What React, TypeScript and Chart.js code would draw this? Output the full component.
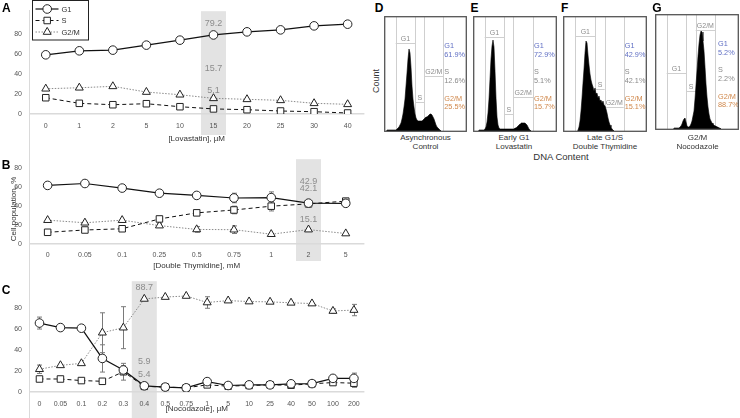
import React, { useEffect, useRef } from 'react';
import { Chart, registerables } from 'chart.js';
Chart.register(...registerables);

const FONT = "'Liberation Sans', Arial, Helvetica, sans-serif";

// ---------- Panel A: Lovastatin ----------
const A_DOSES = ['0', '1', '2', '5', '10', '15', '20', '25', '30', '40'];
const A_G1 = [59.3, 63.3, 64, 69, 74, 79.2, 82.3, 84.3, 88.3, 90];
const A_S = [16.3, 10.7, 9.3, 10.3, 7.3, 5.1, 4.3, 3, 2.3, 1];
const A_G2M = [25.3, 26.3, 27.7, 22, 19.3, 15.7, 14.7, 13.7, 10.7, 9.7];
const A_NOTES = ['79.2', '15.7', '5.1'];
const A_NOTE_Y = [91, 46, 24];

// ---------- Panel B: Double Thymidine ----------
const B_DOSES = ['0', '0.05', '0.1', '0.25', '0.5', '0.75', '1', '2', '5'];
const B_G1 = [61.5, 63.5, 58.7, 53.3, 51, 48.3, 48.7, 42.9, 42.7];
const B_S = [12.3, 14.7, 16, 26.3, 32.7, 35.7, 39.7, 42.1, 45];
const B_G2M = [25, 22.3, 25, 19.3, 15.3, 15, 10.3, 15.1, 11];
const B_G1_ERR = [0, 0, 0, 0, 3, 5, 6, 2, 0];
const B_S_ERR = [0, 0, 0, 2, 2, 4, 5, 2, 0];
const B_G2M_ERR = [0, 0, 0, 2, 3, 4, 0, 0, 0];
const B_NOTES = ['42.9', '42.1', '15.1'];
const B_NOTE_Y = [65.5, 58.5, 26];

// ---------- Panel C: Nocodazole ----------
const C_DOSES = ['0', '0.05', '0.1', '0.2', '0.3', '0.4', '0.5', '0.75', '1', '5', '10', '25', '40', '50', '100', '200'];
const C_G1 = [65.7, 61.4, 60.8, 32, 21, 5.9, 4.7, 4, 9.9, 6.2, 6.8, 6.8, 7.8, 8, 13, 13];
const C_S = [12.4, 12.4, 10.9, 10.2, 19.3, 5.4, 4.7, 4, 6.8, 5.6, 6.2, 6.8, 6.5, 7.8, 9, 8.4];
const C_G2M = [21.7, 25.4, 27.3, 56.5, 61.3, 88.7, 90.5, 91.5, 85.3, 87.1, 86.2, 85.9, 85, 84.3, 77.2, 78.1];
const C_G1_ERR = [5.7, 0, 0, 13, 4, 0, 0, 0, 3, 0, 0, 0, 0, 0, 0, 5];
const C_S_ERR = [0, 0, 0, 0, 8, 0, 0, 0, 0, 0, 0, 0, 0, 0, 0, 4];
const C_G2M_ERR = [4, 0, 0, 19, 20, 0, 0, 0, 5.5, 0, 0, 0, 0, 0, 2, 5.4];
const C_NOTES = ['88.7', '5.9', '5.4'];
const C_NOTE_Y = [99.2, 29, 16.7];

const SERIES_NAMES = ['G1', 'S', 'G2/M'];

// ---------- Histograms (DNA content, counts per channel) ----------
const HIST_D_START = 2;
const HIST_D = [1, 1, 1, 1, 1, 1, 1, 1, 1, 1, 2, 3, 4, 6, 8, 12, 17, 24, 32, 45, 58, 72, 82, 78, 64, 45, 32, 24, 17, 13, 11, 10, 10, 10, 10, 10, 11, 12, 13, 14, 14, 15, 16, 17, 17, 16, 14, 12, 9, 6, 4, 3, 2, 1];
const HIST_E_START = 5;
const HIST_E = [1, 1, 1, 1, 1, 1, 2, 4, 9, 18, 32, 52, 72, 85, 91, 84, 60, 33, 14, 6, 3, 2, 2, 2, 2, 2, 2, 2, 2, 2, 2, 2, 2, 2, 2, 2, 3, 3, 4, 5, 6, 7, 8, 8, 8, 8, 8, 7, 6, 4, 2, 1];
const HIST_F_START = 14;
const HIST_F = [1, 4, 10, 20, 33, 48, 62, 78, 90, 88, 76, 66, 57, 51, 47, 44, 40, 43, 37, 38, 33, 35, 30, 31, 28, 30, 26, 25, 22, 18, 13, 9, 6, 4, 2, 1];
const HIST_G_START = 18;
const HIST_G = [1, 1, 1, 1, 1, 1, 2, 3, 5, 8, 10, 11, 7, 3, 2, 2, 3, 5, 8, 13, 18, 30, 44, 58, 73, 85, 94, 98, 97, 88, 78, 62, 45, 32, 22, 15, 10, 8, 6, 5, 4, 3, 3, 2, 2, 1, 1];

const D_GATES = [10.7, 30.3, 39.3, 58.3];
const D_GATE_H = [88, 29, 55];
const E_GATES = [10.7, 30.3, 39.3, 59];
const E_GATE_H = [94, 17, 34];
const F_GATES = [11.3, 31.3, 40.7, 59.7];
const F_GATE_H = [95, 42, 24];
const G_GATES = [10.7, 30.3, 39.7, 59];
const G_GATE_H = [56, 38, 99];

const D_PCT = ['61.9%', '12.6%', '25.5%'];
const E_PCT = ['72.9%', '5.1%', '15.7%'];
const F_PCT = ['42.9%', '42.1%', '15.1%'];
const G_PCT = ['5.2%', '2.2%', '88.7%'];

const STAT_COLORS = ['#6170c4', '#8a8a8a', '#d0874a'];

const SERIES_STYLE: any[] = [
  { borderColor: '#111', borderWidth: 1.2, borderDash: [], pointStyle: 'circle', pointRadius: 4.3 },
  { borderColor: '#111', borderWidth: 1, borderDash: [4, 3], pointStyle: 'rect', pointRadius: 4.6 },
  { borderColor: '#8a8a8a', borderWidth: 1, borderDash: [1.5, 1.5], pointStyle: 'triangle', pointRadius: 4.6 },
];

function drawMarker(ctx: CanvasRenderingContext2D, style: string, x: number, y: number, r: number) {
  ctx.beginPath();
  if (style === 'circle') {
    ctx.arc(x, y, r, 0, Math.PI * 2);
  } else if (style === 'rect') {
    const s = r * Math.SQRT1_2;
    ctx.rect(x - s, y - s, 2 * s, 2 * s);
  } else {
    const h = r * Math.sin(Math.PI / 3);
    ctx.moveTo(x, y - r);
    ctx.lineTo(x + h, y + r / 2);
    ctx.lineTo(x - h, y + r / 2);
    ctx.closePath();
  }
  ctx.fillStyle = '#fff';
  ctx.fill();
  ctx.lineWidth = 1;
  ctx.strokeStyle = '#222';
  ctx.stroke();
}

const panelPlugin = {
  id: 'panel',
  beforeDraw(chart: any, _a: any, o: any) {
    const { ctx, chartArea } = chart;
    const xs = chart.scales.x;
    const cx = xs.getPixelForValue(o.hi);
    ctx.save();
    ctx.fillStyle = '#e3e3e3';
    ctx.fillRect(cx - o.bandW / 2, chartArea.top, o.bandW, chartArea.bottom - chartArea.top + o.bandExtra);
    ctx.restore();
  },
  beforeDatasetsDraw(chart: any, _a: any, o: any) {
    const { ctx } = chart;
    const ys = chart.scales.y;
    ctx.save();
    ctx.strokeStyle = '#7a7a7a';
    ctx.lineWidth = 1;
    (o.errors || []).forEach((errs: number[], i: number) => {
      const meta = chart.getDatasetMeta(i);
      const vals = chart.data.datasets[i].data;
      errs.forEach((e, j) => {
        if (!e) return;
        const x = Math.round(meta.data[j].x) + 0.5;
        const t = ys.getPixelForValue(vals[j] + e);
        const b = ys.getPixelForValue(vals[j] - e);
        ctx.beginPath();
        ctx.moveTo(x, t); ctx.lineTo(x, b);
        ctx.moveTo(x - 2.5, t); ctx.lineTo(x + 2.5, t);
        ctx.moveTo(x - 2.5, b); ctx.lineTo(x + 2.5, b);
        ctx.stroke();
      });
    });
    ctx.restore();
  },
  afterDatasetsDraw(chart: any, _a: any, o: any) {
    const { ctx } = chart;
    const cx = chart.scales.x.getPixelForValue(o.hi);
    const ys = chart.scales.y;
    ctx.save();
    ctx.fillStyle = '#8c8c8c';
    ctx.font = `9px ${FONT}`;
    ctx.textAlign = 'center';
    ctx.textBaseline = 'middle';
    o.notes.forEach((t: string, i: number) => {
      ctx.fillText(t, cx, ys.getPixelForValue(o.noteY[i]));
    });
    ctx.restore();
  },
  afterDraw(chart: any, _a: any, o: any) {
    if (!o.legend) return;
    const { ctx, chartArea } = chart;
    const x0 = chartArea.left + 3.5;
    ctx.save();
    ctx.strokeStyle = '#222';
    ctx.lineWidth = 1;
    ctx.fillStyle = '#fff';
    ctx.fillRect(x0, 0.5, 56, 39.5);
    ctx.strokeRect(x0, 0.5, 56, 39.5);
    chart.data.datasets.forEach((ds: any, i: number) => {
      const y = 9 + i * 11.5;
      ctx.beginPath();
      ctx.setLineDash(ds.borderDash || []);
      ctx.strokeStyle = ds.borderColor;
      ctx.lineWidth = ds.borderWidth;
      ctx.moveTo(x0 + 3, y);
      ctx.lineTo(x0 + 26, y);
      ctx.stroke();
      ctx.setLineDash([]);
      drawMarker(ctx, ds.pointStyle, x0 + 14.7, y, ds.pointRadius);
      ctx.fillStyle = '#333';
      ctx.font = `7.5px ${FONT}`;
      ctx.textAlign = 'left';
      ctx.textBaseline = 'middle';
      ctx.fillText(ds.label, x0 + 29, y + 0.5);
    });
    ctx.restore();
  },
};

interface LineProps {
  top: number; h: number; padTop: number; axisH: number; yMax: number;
  cats: string[]; series: number[][]; errors?: number[][];
  hi: number; notes: string[]; noteY: number[]; bandExtra: number;
  xTitle: string; xTickPad: number; titlePad: number; legend?: boolean;
}

function LinePanel(p: LineProps) {
  const ref = useRef<HTMLCanvasElement>(null);
  useEffect(() => {
    const chart = new Chart(ref.current as HTMLCanvasElement, {
      type: 'line',
      data: {
        labels: p.cats,
        datasets: p.series.map((d, i) => ({
          label: SERIES_NAMES[i],
          data: d,
          ...SERIES_STYLE[i],
          pointBackgroundColor: '#fff',
          pointBorderColor: '#222',
          pointBorderWidth: 1,
          tension: 0,
          fill: false,
        })),
      } as any,
      options: {
        animation: false,
        responsive: false,
        maintainAspectRatio: false,
        layout: { padding: { top: p.padTop, right: 5, left: 0, bottom: 0 } },
        plugins: {
          legend: { display: false },
          tooltip: { enabled: false },
          panel: {
            hi: p.hi, bandW: 25, bandExtra: p.bandExtra, notes: p.notes, noteY: p.noteY,
            errors: p.errors, legend: !!p.legend,
          },
        } as any,
        scales: {
          x: {
            type: 'category',
            offset: true,
            grid: { display: false, drawTicks: false },
            border: { display: false },
            ticks: { font: { size: 7, family: FONT }, color: '#555', padding: p.xTickPad, autoSkip: false, maxRotation: 0 },
            title: { display: true, text: p.xTitle, font: { size: 8, family: FONT }, color: '#333', padding: { top: 0, bottom: p.titlePad } },
            afterFit: (s: any) => { s.height = p.axisH; },
          },
          y: {
            min: 0,
            max: p.yMax,
            grid: {
              drawTicks: false,
              lineWidth: 1.5,
              color: (c: any) => (c.tick && c.tick.value === 0 ? '#dadada' : 'rgba(0,0,0,0)'),
            },
            border: { display: false },
            ticks: {
              stepSize: 20,
              font: { size: 7, family: FONT },
              color: '#555',
              padding: 7,
              callback: (v: any) => (v <= 80 && v % 20 === 0 ? String(v) : ''),
            },
            afterFit: (s: any) => { s.width = 29; },
          },
        },
      } as any,
      plugins: [panelPlugin],
    });
    return () => chart.destroy();
  }, []);
  return (
    <canvas
      ref={ref}
      width={370}
      height={p.h}
      style={{ position: 'absolute', left: 0, top: p.top, width: 370, height: p.h }}
    />
  );
}

const histPlugin = {
  id: 'hist',
  beforeDatasetsDraw(chart: any, _a: any, o: any) {
    const { ctx, chartArea } = chart;
    const xs = chart.scales.x;
    const ys = chart.scales.y;
    ctx.save();
    ctx.strokeStyle = '#cfcfcf';
    ctx.lineWidth = 1;
    o.gates.forEach((g: number) => {
      const x = Math.round(xs.getPixelForValue(g)) + 0.5;
      ctx.beginPath();
      ctx.moveTo(x, chartArea.top);
      ctx.lineTo(x, chartArea.bottom);
      ctx.stroke();
    });
    ctx.font = `7px ${FONT}`;
    ctx.fillStyle = '#8c8c8c';
    ctx.textAlign = 'center';
    ctx.textBaseline = 'bottom';
    SERIES_NAMES.forEach((name, i) => {
      const x1 = xs.getPixelForValue(o.gates[i]);
      const x2 = xs.getPixelForValue(o.gates[i + 1]);
      const y = Math.round(ys.getPixelForValue(o.gateH[i])) + 0.5;
      ctx.beginPath();
      ctx.moveTo(x1, y);
      ctx.lineTo(x2, y);
      ctx.stroke();
      ctx.fillText(name, (x1 + x2) / 2, y - 0.5);
    });
    ctx.font = `7.3px ${FONT}`;
    ctx.textAlign = 'left';
    ctx.textBaseline = 'middle';
    const sx = xs.getPixelForValue(o.gates[3]) + o.statGap;
    const rows = [85, 76.5, 59, 50, 32.5, 24];
    SERIES_NAMES.forEach((name, i) => {
      ctx.fillStyle = STAT_COLORS[i];
      ctx.fillText(name, sx, ys.getPixelForValue(rows[i * 2]));
      ctx.fillText(o.pct[i], sx, ys.getPixelForValue(rows[i * 2 + 1]));
    });
    ctx.restore();
  },
  afterDraw(chart: any) {
    const { ctx, chartArea } = chart;
    ctx.save();
    ctx.strokeStyle = '#555';
    ctx.lineWidth = 1.3;
    ctx.strokeRect(chartArea.left - 0.3, chartArea.top - 0.3, chartArea.right - chartArea.left + 0.6, chartArea.bottom - chartArea.top + 0.6);
    ctx.restore();
  },
};

interface HistProps {
  left: number; top: number; w: number; start: number; counts: number[];
  gates: number[]; gateH: number[]; pct: string[]; statGap: number;
}

function HistPanel(p: HistProps) {
  const ref = useRef<HTMLCanvasElement>(null);
  useEffect(() => {
    const pts = [{ x: p.start - 0.5, y: 0 }]
      .concat(p.counts.map((c, i) => ({ x: p.start + i, y: c })))
      .concat([{ x: p.start + p.counts.length - 0.5, y: 0 }]);
    const chart = new Chart(ref.current as HTMLCanvasElement, {
      type: 'line',
      data: {
        datasets: [{
          data: pts,
          borderColor: '#000',
          backgroundColor: '#000',
          borderWidth: 0.6,
          pointRadius: 0,
          fill: 'origin',
          tension: 0,
        }],
      } as any,
      options: {
        animation: false,
        responsive: false,
        maintainAspectRatio: false,
        layout: { padding: 1 },
        plugins: {
          legend: { display: false },
          tooltip: { enabled: false },
          hist: { gates: p.gates, gateH: p.gateH, pct: p.pct, statGap: p.statGap },
        } as any,
        scales: {
          x: { type: 'linear', min: 0, max: p.w - 2, display: false },
          y: { min: 0, max: 114, display: false },
        },
      } as any,
      plugins: [histPlugin],
    });
    return () => chart.destroy();
  }, []);
  return (
    <canvas
      ref={ref}
      width={p.w}
      height={116}
      style={{ position: 'absolute', left: p.left, top: p.top, width: p.w, height: 116 }}
    />
  );
}

function Txt(props: { x: number; y: number; size: number; bold?: boolean; color?: string; rotate?: boolean; children: any }) {
  return (
    <div
      style={{
        position: 'absolute',
        left: props.x,
        top: props.y,
        transform: `translate(-50%, -50%)${props.rotate ? ' rotate(-90deg)' : ''}`,
        fontSize: props.size,
        fontWeight: props.bold ? 'bold' : 'normal',
        color: props.color || '#333',
        whiteSpace: 'nowrap',
        lineHeight: 1,
        fontFamily: FONT,
      }}
    >
      {props.children}
    </div>
  );
}

export default function App() {
  return (
    <div style={{ position: 'fixed', left: 0, top: 0, width: 740, height: 418, background: '#fff', overflow: 'hidden', fontFamily: FONT }}>
      <div style={{ position: 'absolute', left: 29, top: 10, width: 1, height: 408, background: '#dadada' }} />
      <LinePanel
        top={0} h={150} padTop={11} axisH={36} yMax={103}
        cats={A_DOSES} series={[A_G1, A_S, A_G2M]}
        hi={5} notes={A_NOTES} noteY={A_NOTE_Y} bandExtra={21}
        xTitle="[Lovastatin], µM" xTickPad={7.5} titlePad={6.2} legend
      />
      <LinePanel
        top={148} h={124} padTop={7} axisH={28} yMax={89}
        cats={B_DOSES} series={[B_G1, B_S, B_G2M]} errors={[B_G1_ERR, B_S_ERR, B_G2M_ERR]}
        hi={7} notes={B_NOTES} noteY={B_NOTE_Y} bandExtra={17}
        xTitle="[Double Thymidine], mM" xTickPad={6.8} titlePad={1.5}
      />
      <LinePanel
        top={270} h={148} padTop={8} axisH={26} yMax={105.6}
        cats={C_DOSES} series={[C_G1, C_S, C_G2M]} errors={[C_G1_ERR, C_S_ERR, C_G2M_ERR]}
        hi={5} notes={C_NOTES} noteY={C_NOTE_Y} bandExtra={26}
        xTitle="[Nocodazole], µM" xTickPad={8} titlePad={4.9}
      />
      <HistPanel left={384} top={16} w={83} start={HIST_D_START} counts={HIST_D} gates={D_GATES} gateH={D_GATE_H} pct={D_PCT} statGap={1} />
      <HistPanel left={473} top={16} w={84} start={HIST_E_START} counts={HIST_E} gates={E_GATES} gateH={E_GATE_H} pct={E_PCT} statGap={1} />
      <HistPanel left={563} top={16} w={84} start={HIST_F_START} counts={HIST_F} gates={F_GATES} gateH={F_GATE_H} pct={F_PCT} statGap={1} />
      <HistPanel left={655} top={14} w={84} start={HIST_G_START} counts={HIST_G} gates={G_GATES} gateH={G_GATE_H} pct={G_PCT} statGap={3} />

      <Txt x={6.3} y={7.5} size={12} bold color="#000">A</Txt>
      <Txt x={6} y={164.5} size={12} bold color="#000">B</Txt>
      <Txt x={6} y={290} size={12} bold color="#000">C</Txt>
      <Txt x={379} y={8} size={12} bold color="#000">D</Txt>
      <Txt x={474.5} y={8} size={12} bold color="#000">E</Txt>
      <Txt x={564.7} y={8} size={12} bold color="#000">F</Txt>
      <Txt x={657} y={8} size={12} bold color="#000">G</Txt>

      <Txt x={14} y={209} size={8} rotate>Cell population, %</Txt>
      <Txt x={375.5} y={80.5} size={9} rotate>Count</Txt>

      <Txt x={425.5} y={138.3} size={8}>Asynchronous</Txt>
      <Txt x={425.5} y={147.3} size={8}>Control</Txt>
      <Txt x={514} y={138.3} size={8}>Early G1</Txt>
      <Txt x={514} y={147.3} size={8}>Lovastatin</Txt>
      <Txt x={605} y={138.3} size={8}>Late G1/S</Txt>
      <Txt x={605} y={147.3} size={8}>Double Thymidine</Txt>
      <Txt x={697.5} y={138.3} size={8}>G2/M</Txt>
      <Txt x={697.5} y={147.3} size={8}>Nocodazole</Txt>
      <Txt x={561} y={157.3} size={9.5}>DNA Content</Txt>
    </div>
  );
}
